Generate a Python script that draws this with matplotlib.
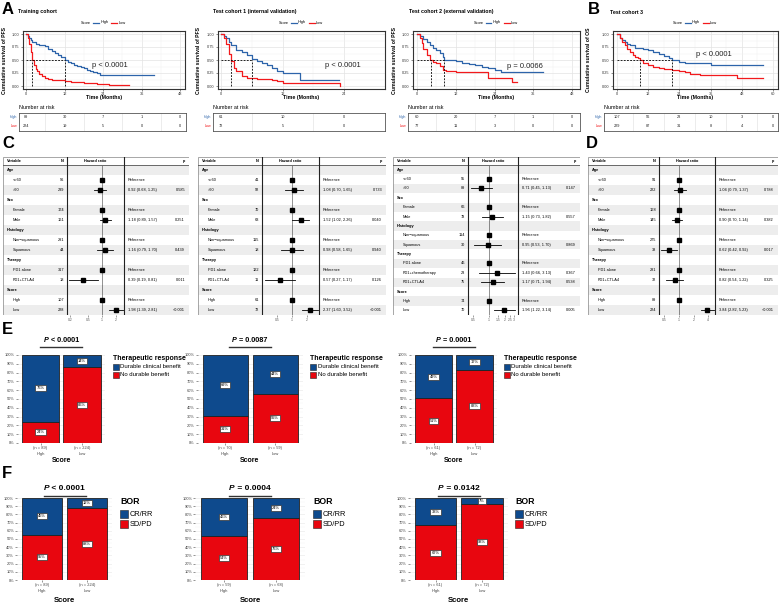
import numpy as np
import matplotlib
matplotlib.use("Agg")
import matplotlib.pyplot as plt
from matplotlib.lines import Line2D
from matplotlib.patches import Rectangle
from matplotlib.ticker import NullLocator

plt.rcParams['font.family'] = ['Liberation Sans', 'DejaVu Sans']

# ===================== DATA =====================
# Kaplan-Meier step curves (months, survival)
train_high_t = [0, 0.5, 1, 1.5, 2, 3, 4, 5, 6, 7, 8, 9, 10, 11, 12, 13, 14, 15, 16, 17, 18, 19, 20, 21, 22, 23, 24, 40]
train_high_s = [1.0, 0.97, 0.93, 0.88, 0.84, 0.80, 0.79, 0.78, 0.76, 0.72, 0.68, 0.64, 0.60, 0.55, 0.50, 0.47, 0.44, 0.41, 0.39, 0.37, 0.34, 0.31, 0.29, 0.27, 0.25, 0.22, 0.21, 0.21]
train_low_t = [0, 0.5, 1, 1.5, 2, 2.5, 3, 3.5, 4, 5, 6, 7, 8, 10, 12, 14, 16, 18, 20, 22, 24, 26, 32]
train_low_s = [1.0, 0.92, 0.80, 0.65, 0.50, 0.40, 0.33, 0.28, 0.24, 0.19, 0.15, 0.13, 0.12, 0.11, 0.10, 0.08, 0.07, 0.06, 0.05, 0.04, 0.03, 0.02, 0.02]

t1_high_t = [0, 0.5, 1, 1.5, 2, 3, 4, 5, 6, 7, 8, 9, 10, 11, 12, 15.5, 23]
t1_high_s = [1.0, 0.97, 0.92, 0.85, 0.78, 0.70, 0.65, 0.60, 0.52, 0.48, 0.45, 0.40, 0.34, 0.29, 0.25, 0.12, 0.12]
t1_low_t = [0, 0.5, 1, 1.5, 2, 2.5, 3, 4, 5, 6, 7, 9, 10, 11, 12, 23, 23.2]
t1_low_s = [1.0, 0.93, 0.80, 0.62, 0.48, 0.35, 0.28, 0.19, 0.16, 0.15, 0.14, 0.13, 0.12, 0.10, 0.065, 0.065, 0.0]

t2_high_t = [0, 1, 2, 3, 4, 5, 6, 7, 8, 8.5, 12, 14, 16, 18, 20, 22, 24, 26, 39]
t2_high_s = [1.0, 0.97, 0.90, 0.85, 0.78, 0.74, 0.70, 0.64, 0.55, 0.50, 0.48, 0.45, 0.42, 0.40, 0.37, 0.34, 0.30, 0.26, 0.26]
t2_low_t = [0, 1, 1.5, 2, 3, 4, 5, 6, 7, 8, 9, 12, 22, 29.5, 31]
t2_low_s = [1.0, 0.92, 0.83, 0.72, 0.60, 0.50, 0.47, 0.44, 0.38, 0.30, 0.28, 0.27, 0.16, 0.08, 0.08]

t3_high_t = [0, 1, 2, 3, 4, 5, 7, 10, 12, 14, 16, 18, 20, 21, 24, 26, 36, 56]
t3_high_s = [1.0, 0.93, 0.88, 0.84, 0.81, 0.78, 0.74, 0.72, 0.70, 0.66, 0.62, 0.58, 0.54, 0.50, 0.47, 0.45, 0.40, 0.40]
t3_low_t = [0, 1, 2, 3, 4, 5, 6, 7, 8, 9, 10, 12, 14, 16, 18, 21, 24, 26, 28, 32, 46, 56]
t3_low_s = [1.0, 0.92, 0.85, 0.79, 0.72, 0.66, 0.60, 0.56, 0.53, 0.50, 0.45, 0.40, 0.36, 0.34, 0.33, 0.31, 0.28, 0.26, 0.24, 0.21, 0.16, 0.16]

km_medians = [(12, 2), (6, 2), (8.4, 4.2), (21, 9)]
km_pvalues = ["p < 0.0001", "p < 0.0001", "p = 0.0066", "p < 0.0001"]
km_titles = ["Training cohort", "Test cohort 1 (internal validation)",
             "Test cohort 2 (external validation)", "Test cohort 3"]
km_ylabels = ["Cumulative survival of PFS"] * 3 + ["Cumulative survival of OS"]
km_xticks = [[0, 12, 24, 36, 48], [0, 12, 24], [0, 12, 24, 36, 48], [0, 12, 24, 36, 48, 60]]

risk_high = [[89, 30, 7, 1, 0], [61, 10, 0], [60, 20, 7, 1, 0], [107, 56, 23, 10, 3, 0]]
risk_low = [[224, 19, 5, 0, 0], [72, 5, 0], [77, 11, 3, 0, 0], [229, 87, 31, 8, 4, 0]]

# Forest plots
fv_std = ["Age", "<=60", ">60", "Sex", "Female", "Male", "Histology", "Non\u2212squamous", "Squamous",
          "Therapy", "PD1 alone", "PD1+CTLA4", "Score", "High", "Low"]
fv_t2 = ["Age", "<=60", ">60", "Sex", "Female", "Male", "Histology", "Non\u2212squamous", "Squamous",
         "Therapy", "PD1 alone", "PD1+chemotherapy", "PD1+CTLA4", "Score", "High", "Low"]

train_n = [None, 96, 239, None, 174, 161, None, 291, 44, None, 317, 18, None, 107, 228]
train_hr = [None, 1, 0.92, None, 1, 1.18, None, 1, 1.16, None, 1, 0.39, None, 1, 1.98]
train_lo = [None, None, 0.68, None, None, 0.89, None, None, 0.79, None, None, 0.19, None, None, 1.39]
train_hi = [None, None, 1.25, None, None, 1.57, None, None, 1.70, None, None, 0.81, None, None, 2.81]
train_p = [None, None, "0.585", None, None, "0.251", None, None, "0.439", None, None, "0.011", None, None, "<0.001"]

test1_n = [None, 41, 92, None, 70, 63, None, 115, 18, None, 122, 11, None, 61, 72]
test1_hr = [None, 1, 1.08, None, 1, 1.52, None, 1, 0.98, None, 1, 0.57, None, 1, 2.37]
test1_lo = [None, None, 0.70, None, None, 1.02, None, None, 0.58, None, None, 0.27, None, None, 1.60]
test1_hi = [None, None, 1.65, None, None, 2.26, None, None, 1.65, None, None, 1.17, None, None, 3.52]
test1_p = [None, None, "0.733", None, None, "0.040", None, None, "0.940", None, None, "0.126", None, None, "<0.001"]

test2_n = [None, 55, 89, None, 66, 78, None, 114, 30, None, 46, 23, 75, None, 74, 70]
test2_hr = [None, 1, 0.71, None, 1, 1.15, None, 1, 0.95, None, 1, 1.43, 1.17, None, 1, 1.96]
test2_lo = [None, None, 0.45, None, None, 0.73, None, None, 0.53, None, None, 0.66, 0.71, None, None, 1.22]
test2_hi = [None, None, 1.13, None, None, 1.82, None, None, 1.70, None, None, 3.13, 1.94, None, None, 3.14]
test2_p = [None, None, "0.147", None, None, "0.557", None, None, "0.869", None, None, "0.367", "0.538", None, None, "0.005"]

test3_n = [None, 91, 222, None, 168, 145, None, 275, 38, None, 281, 32, None, 89, 224]
test3_hr = [None, 1, 1.04, None, 1, 0.90, None, 1, 0.62, None, 1, 0.82, None, 1, 3.84]
test3_lo = [None, None, 0.79, None, None, 0.70, None, None, 0.42, None, None, 0.54, None, None, 2.82]
test3_hi = [None, None, 1.37, None, None, 1.14, None, None, 0.92, None, None, 1.22, None, None, 5.23]
test3_p = [None, None, "0.788", None, None, "0.382", None, None, "0.017", None, None, "0.325", None, None, "<0.001"]

# Bar charts (percent in red = no benefit / SD-PD)
score_groups = ["High", "Low"]
E_ptext = ["P < 0.0001", "P = 0.0087", "P = 0.0001"]
E_red_high = [24, 31, 51]
E_red_low = [86, 56, 83]
E_n_high = [89, 70, 61]
E_n_low = [224, 59, 72]
F_ptext = ["P < 0.0001", "P = 0.0004", "P = 0.0142"]
F_red_high = [55, 54, 67]
F_red_low = [88, 76, 93]
F_n_high = [89, 59, 61]
F_n_low = [224, 68, 72]

# ===================== LAYOUT HELPERS =====================
W, H = 782, 605
fig = plt.figure(figsize=(W / 100, H / 100), dpi=100)
renderer = fig.canvas.get_renderer()


def add_ax(x0, y0, x1, y1):
    return fig.add_axes([x0 / W, 1 - y1 / H, (x1 - x0) / W, (y1 - y0) / H])


def ftext(x, y, s, **kw):
    kw.setdefault('va', 'center')
    return fig.text(x / W, 1 - y / H, s, **kw)


def fline(xs, ys, **kw):
    fig.add_artist(Line2D([x / W for x in xs], [1 - y / H for y in ys], **kw))


def frect(x, y, w, h, **kw):
    fig.add_artist(Rectangle((x / W, 1 - (y + h) / H), w / W, h / H, transform=fig.transFigure, **kw))


BLUE_KM = '#2D64AA'
RED_KM = '#F2191C'
BLUE = '#0E4A8D'
RED = '#E8060F'

# ===================== KM PANELS =====================
km_geo = [
    # frame x0, x1, t0px, px/month, title x, ylabel x, risk box x0, x1
    (23, 185, 26, 3.21, 18, 5, 19, 186),
    (218, 385, 221, 5.125, 213, 199, 213, 385),
    (413, 580, 417, 3.23, 409, 395, 408, 580),
    (613, 778, 617, 2.6, 610, 589, 604, 778),
]
km_data = [(train_high_t, train_high_s, train_low_t, train_low_s),
           (t1_high_t, t1_high_s, t1_low_t, t1_low_s),
           (t2_high_t, t2_high_s, t2_low_t, t2_low_s),
           (t3_high_t, t3_high_s, t3_low_t, t3_low_s)]
p_pos = [(20.5, 0.40), (20.3, 0.39), (28, 0.38), (30.4, 0.60)]

for k in range(4):
    x0, x1, t0, ppm, tx, ylx, bx0, bx1 = km_geo[k]
    ht, hs, lt, ls_ = km_data[k]
    ax = add_ax(x0, 31, x1, 89)
    ax.set_xlim((x0 - t0) / ppm, (x1 - t0) / ppm)
    ax.set_ylim(-3 / 52, 1 + 3 / 52)
    ticks = km_xticks[k]
    ax.set_xticks(ticks)
    ax.set_xticks([t + 6 for t in ticks[:-1]], minor=True)
    ax.set_yticks([0, 0.25, 0.5, 0.75, 1.0])
    ax.set_yticks([0.125, 0.375, 0.625, 0.875], minor=True)
    ax.set_yticklabels(["0.00", "0.25", "0.50", "0.75", "1.00"])
    ax.grid(which='major', color='#E3E3E3', lw=0.5)
    ax.grid(which='minor', color='#F0F0F0', lw=0.3)
    ax.set_axisbelow(True)
    ax.tick_params(which='major', labelsize=2.8, length=1.5, width=0.4, pad=1, colors='#333333')
    ax.tick_params(which='minor', length=0)
    for sp in ax.spines.values():
        sp.set_color('#333333')
        sp.set_linewidth(0.8)
    ax.step(ht, hs, where='post', color=BLUE_KM, lw=0.9)
    ax.step(lt, ls_, where='post', color=RED_KM, lw=0.9)
    mh, ml = km_medians[k]
    dash = (0, (2.2, 1.6))
    ax.plot([0, max(mh, ml)], [0.5, 0.5], color='black', lw=0.6, ls=dash)
    for m in (mh, ml):
        ax.plot([m, m], [0, 0.5], color='black', lw=0.6, ls=dash)
    ax.text(p_pos[k][0], p_pos[k][1], km_pvalues[k], fontsize=5.4, color='#222222', va='center')
    # title, labels
    ftext(tx, 12, km_titles[k], fontsize=3.8, fontweight='bold')
    ftext(ylx, 60, km_ylabels[k], fontsize=3.7, fontweight='bold', rotation=90, ha='center')
    ftext((x0 + x1) / 2, 97.5, "Time (Months)", fontsize=3.8, fontweight='bold', ha='center')
    # legend
    cx = (x0 + x1) / 2
    ftext(cx - 13, 22.5, "Score", fontsize=2.8, ha='right')
    fline([cx - 11, cx - 5], [22.5, 22.5], color=BLUE_KM, lw=0.9)
    ftext(cx - 3.5, 22.5, "High", fontsize=2.8)
    fline([cx + 7, cx + 13], [22.5, 22.5], color=RED_KM, lw=0.9)
    ftext(cx + 14.5, 22.5, "Low", fontsize=2.8)
    # risk table
    ftext(bx0, 107.5, "Number at risk", fontsize=3.9)
    rax = add_ax(bx0, 113, bx1, 131)
    rax.set_xlim((bx0 - t0) / ppm, (bx1 - t0) / ppm)
    rax.set_ylim(0, 1)
    rax.set_xticks([])
    rax.set_yticks([])
    for sp in rax.spines.values():
        sp.set_color('#555555')
        sp.set_linewidth(0.6)
    for t in ticks[:-1]:
        rax.axvline(t + 6, color='#DDDDDD', lw=0.4)
    for t, v in zip(ticks, risk_high[k]):
        rax.text(t, 0.78, str(v), fontsize=2.8, ha='center', va='center', color='#222222')
    for t, v in zip(ticks, risk_low[k]):
        rax.text(t, 0.28, str(v), fontsize=2.8, ha='center', va='center', color='#222222')
    ftext(bx0 - 2, 117, "High", fontsize=2.6, ha='right', color=BLUE_KM)
    ftext(bx0 - 2, 126, "Low", fontsize=2.6, ha='right', color=RED_KM)

# ===================== FOREST PLOTS =====================
forest_geo = [
    (3, 67, 124, 189, 102, 20, [0.2, 0.5, 1, 2], ["0.2", "0.5", "1", "2"]),
    (198, 262, 319, 386, 292, 21, [0.5, 1, 2], ["0.5", "1", "2"]),
    (393, 468, 518, 580, 489, 23, [0.5, 1, 1.5, 2, 2.5, 3], ["0.5", "1", "1.5", "2", "2.5", "3"]),
    (588, 659, 715, 778, 679, 21, [0.5, 1, 2, 4], ["0.5", "1", "2", "4"]),
]
forest_data = [
    (fv_std, train_n, train_hr, train_lo, train_hi, train_p),
    (fv_std, test1_n, test1_hr, test1_lo, test1_hi, test1_p),
    (fv_t2, test2_n, test2_hr, test2_lo, test2_hi, test2_p),
    (fv_std, test3_n, test3_hr, test3_lo, test3_hi, test3_p),
]
FS = 2.8
for k in range(4):
    left, v1, v2, right, hr1, ppl, tks, tkl = forest_geo[k]
    vars_, ns, hrs, los, his, ps = forest_data[k]
    n = len(vars_)
    rh = 150.0 / n
    tab = add_ax(left, 157, right, 315)
    tab.set_xlim(left, right)
    tab.set_ylim(315, 157)
    tab.axis('off')
    for i in range(n):
        if i % 2 == 0:
            tab.add_patch(Rectangle((left, 165 + i * rh), right - left, rh, color='#EDEDED', lw=0, zorder=0))
    tab.add_patch(Rectangle((left, 157), right - left, 158, fill=False, ec='#999999', lw=0.6, zorder=3))
    tab.plot([left, right], [165, 165], color='#333333', lw=0.5, zorder=3)
    tab.plot([v1, v1], [157, 315], color='#222222', lw=0.8, zorder=3)
    tab.plot([v2, v2], [157, 315], color='#222222', lw=0.8, zorder=3)
    tab.text(left + 4, 161, "Variable", fontsize=FS, fontweight='bold', va='center')
    tab.text(v1 - 3, 161, "N", fontsize=FS, fontweight='bold', va='center', ha='right')
    tab.text((v1 + v2) / 2, 161, "Hazard ratio", fontsize=FS, fontweight='bold', va='center', ha='center')
    tab.text(right - 4, 161, "p", fontsize=FS, fontweight='bold', va='center', ha='right')
    for i in range(n):
        yc = 165 + (i + 0.5) * rh
        if ns[i] is None:
            tab.text(left + 4, yc, vars_[i], fontsize=FS, fontweight='bold', va='center')
            continue
        tab.text(left + 10, yc, vars_[i], fontsize=FS, va='center')
        tab.text(v1 - 3, yc, str(ns[i]), fontsize=FS, va='center', ha='right')
        if los[i] is None:
            tab.text(v2 + 4, yc, "Reference", fontsize=FS, va='center')
        else:
            tab.text(v2 + 4, yc, f"{hrs[i]:.2f} ({los[i]:.2f}, {his[i]:.2f})", fontsize=FS, va='center')
            tab.text(right - 4, yc, ps[i], fontsize=FS, va='center', ha='right')
    hx = add_ax(v1, 165, v2, 315)
    hx.set_xscale('log')
    hx.set_xlim(np.exp((v1 - hr1) / ppl), np.exp((v2 - hr1) / ppl))
    hx.set_ylim(n, 0)
    hx.patch.set_alpha(0)
    for sp in hx.spines.values():
        sp.set_visible(False)
    hx.set_yticks([])
    hx.set_xticks(tks)
    hx.set_xticklabels(tkl)
    hx.xaxis.set_minor_locator(NullLocator())
    hx.tick_params(axis='x', labelsize=2.4, length=1.2, width=0.4, pad=0.8, colors='#555555')
    hx.axvline(1, color='black', ls=(0, (1.2, 1.2)), lw=0.6)
    for i in range(n):
        if hrs[i] is None:
            continue
        yc = i + 0.5
        if los[i] is not None:
            hx.plot([los[i], his[i]], [yc, yc], color='black', lw=0.6)
        hx.plot([hrs[i]], [yc], marker='s', ms=3.2, color='black', mec='black')

# ===================== BAR PANELS =====================
def p_title(cx, y, s, fs):
    t1 = ftext(0, y, "P", fontsize=fs, fontweight='bold', fontstyle='italic', ha='left')
    t2 = ftext(0, y, s[1:], fontsize=fs, fontweight='bold', ha='left')
    w1 = t1.get_window_extent(renderer=renderer).width
    w2 = t2.get_window_extent(renderer=renderer).width
    start = cx - (w1 + w2) / 2
    t1.set_position((start / W, 1 - y / H))
    t2.set_position(((start + w1) / W, 1 - y / H))


def bar_panel(c0, c1, ytop, ybot, red_h, red_l, nh, nl, ptxt, leg_x, leg_title, leg_items, big):
    u = c1 - c0
    x0 = c0 - 0.55 * u
    x1 = c1 + 0.55 * u
    ax = add_ax(x0, ytop, x1, ybot)
    ax.set_xlim(-0.55, 1.55)
    ax.set_ylim(0, 1)
    red_vals = [red_h / 100, red_l / 100]
    blue_vals = [1 - r for r in red_vals]
    xs = [0, 1]
    ax.bar(xs, red_vals, width=0.9, color=RED, edgecolor='#222222', lw=0.6, zorder=2)
    ax.bar(xs, blue_vals, bottom=red_vals, width=0.9, color=BLUE, edgecolor='#222222', lw=0.6, zorder=2)
    for x, r, b in zip(xs, red_vals, blue_vals):
        for val, mid in ((r, r / 2), (b, r + b / 2)):
            ax.text(x, mid, f"{round(val * 100)}%", fontsize=2.9, ha='center', va='center', zorder=4,
                    bbox=dict(boxstyle='square,pad=0.25', fc='white', ec='#333333', lw=0.5))
    ax.set_yticks(np.arange(0, 1.01, 0.1))
    ax.set_yticklabels([f"{int(v)}%" for v in np.arange(0, 101, 10)])
    ax.set_yticks(np.arange(0.05, 1.0, 0.1), minor=True)
    ax.grid(axis='y', which='major', color='#E6E6E6', lw=0.4)
    ax.grid(axis='y', which='minor', color='#F2F2F2', lw=0.3)
    ax.set_axisbelow(True)
    ax.set_xticks(xs)
    ax.set_xticklabels([f"(n = {nh})\n{score_groups[0]}", f"(n = {nl})\n{score_groups[1]}"],
                       linespacing=1.6)
    ax.tick_params(axis='both', which='major', labelsize=2.9, length=1.2, width=0.4, pad=1,
                   colors='#444444')
    ax.tick_params(which='minor', length=0)
    for sp in ax.spines.values():
        sp.set_visible(False)
    cx = (c0 + c1) / 2
    ftext(cx, ybot + 18 if not big else ybot + 21, "Score", fontsize=5.0 if not big else 5.6,
          fontweight='bold', ha='center')
    fs = 5.2 if not big else 6.0
    p_title(cx, ytop - 15 if not big else ytop - 9, ptxt, fs)
    uy = ytop - 8 if not big else ytop - 2.5
    fline([cx - 21, cx + 21], [uy, uy], color='#333333', lw=1.0)
    # legend
    if not big:
        ftext(leg_x, ytop + 4, leg_title, fontsize=5.0, fontweight='bold')
        for j, (col, lab) in enumerate(leg_items):
            yy = ytop + 12 + j * 8
            frect(leg_x, yy - 2.7, 5.5, 5.5, fc=col, ec='#222222', lw=0.4)
            ftext(leg_x + 7.5, yy, lab, fontsize=4.3)
    else:
        ftext(leg_x, ytop + 3, leg_title, fontsize=6.3, fontweight='bold')
        for j, (col, lab) in enumerate(leg_items):
            yy = ytop + 16 + j * 10
            frect(leg_x, yy - 4, 8, 8, fc=col, ec='#222222', lw=0.4)
            ftext(leg_x + 10, yy, lab, fontsize=5.3)


E_centers = [(40.5, 82), (225, 275), (433.5, 474.5)]
E_leg_x = [113, 310, 504]
F_centers = [(42, 87), (224, 276), (435.5, 482)]
F_leg_x = [120, 313, 515]
for k in range(3):
    bar_panel(E_centers[k][0], E_centers[k][1], 355, 443, E_red_high[k], E_red_low[k],
              E_n_high[k], E_n_low[k], E_ptext[k], E_leg_x[k], "Therapeutic response",
              [(BLUE, "Durable clinical benefit"), (RED, "No durable benefit")], False)
    bar_panel(F_centers[k][0], F_centers[k][1], 498, 580, F_red_high[k], F_red_low[k],
              F_n_high[k], F_n_low[k], F_ptext[k], F_leg_x[k], "BOR",
              [(BLUE, "CR/RR"), (RED, "SD/PD")], True)

# ===================== PANEL LETTERS =====================
for lab, x, y in [("A", 2, 9), ("B", 588, 9), ("C", 2, 143), ("D", 586, 143), ("E", 2, 330), ("F", 2, 473)]:
    ftext(x, y, lab, fontsize=12, fontweight='bold')

fig.savefig("out.png", dpi=100)
